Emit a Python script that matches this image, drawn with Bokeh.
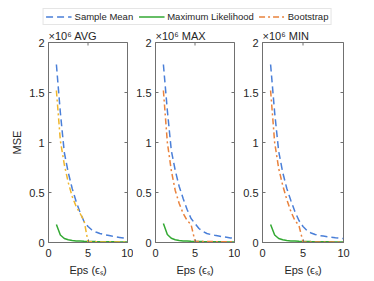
import math
from bokeh.plotting import figure
from bokeh.layouts import column, row
from bokeh.models import (Range1d, FixedTicker, Legend, LegendItem,
                          ColumnDataSource, NumeralTickFormatter)
from bokeh.embed import file_html
from bokeh.resources import INLINE

# ---------------- data (MSE in units of 1e6) ----------------
eps = [1, 1.5, 2, 2.5, 3, 3.5, 4, 4.5, 5, 5.5, 6, 6.5, 7, 7.5, 8, 8.5, 9, 9.5, 10]

panel_names = ["AVG", "MAX", "MIN"]

sample_mean_avg = [1.78, 1.30, 0.90, 0.70, 0.54, 0.41, 0.30, 0.21, 0.16, 0.125, 0.105, 0.09,
                   0.08, 0.072, 0.064, 0.057, 0.051, 0.045, 0.04]
sample_mean_max = [1.78, 1.32, 0.92, 0.72, 0.56, 0.44, 0.33, 0.24, 0.19, 0.14, 0.11, 0.09,
                   0.08, 0.072, 0.065, 0.058, 0.052, 0.046, 0.04]
sample_mean_min = [1.78, 1.30, 0.91, 0.70, 0.54, 0.42, 0.31, 0.22, 0.16, 0.12, 0.095, 0.08,
                   0.07, 0.064, 0.058, 0.053, 0.048, 0.044, 0.04]

max_lik_avg = [0.18, 0.075, 0.04, 0.027, 0.02, 0.016, 0.014, 0.012, 0.011, 0.01, 0.009, 0.0085,
               0.008, 0.0075, 0.007, 0.0065, 0.006, 0.0055, 0.005]
max_lik_max = [0.19, 0.08, 0.042, 0.028, 0.02, 0.016, 0.014, 0.012, 0.011, 0.01, 0.009, 0.0085,
               0.008, 0.0075, 0.007, 0.0065, 0.006, 0.0055, 0.005]
max_lik_min = [0.18, 0.075, 0.04, 0.027, 0.02, 0.016, 0.014, 0.012, 0.011, 0.01, 0.009, 0.0085,
               0.008, 0.0075, 0.007, 0.0065, 0.006, 0.0055, 0.005]

bootstrap_avg = [1.52, 1.02, 0.78, 0.60, 0.46, 0.36, 0.29, 0.22, 0.008, 0.007, 0.007, 0.006,
                 0.006, 0.006, 0.005, 0.005, 0.005, 0.005, 0.005]
bootstrap_max = [1.52, 1.00, 0.72, 0.52, 0.39, 0.29, 0.22, 0.18, 0.012, 0.011, 0.01, 0.01,
                 0.009, 0.009, 0.008, 0.008, 0.008, 0.007, 0.007]
bootstrap_min = [1.52, 1.00, 0.74, 0.57, 0.43, 0.31, 0.22, 0.17, 0.006, 0.006, 0.006, 0.005,
                 0.005, 0.005, 0.005, 0.005, 0.005, 0.005, 0.005]

x_ticks = [0, 5, 10]
y_ticks = [0, 0.5, 1, 1.5, 2]

series_labels = ["Sample Mean", "Maximum Likelihood", "Bootstrap"]

# ---------------- style ----------------
BLUE = "#4a7fd8"
GREEN = "#33a933"
ORANGE = "#e9823c"
YELLOW = "#efb62e"
AXIS = "#707070"
TEXT = "#262626"
FONT = "Liberation Sans"
DASH_SM = "7 4"
DASH_BS = "6 3 2 3"


def make_panel(name, sm, ml, bs, bs_color, left, right, frame_w, ylabel):
    gap = "  " if name == "MIN" else " "
    p = figure(frame_width=frame_w, frame_height=200, x_range=Range1d(0, 10),
               y_range=Range1d(0, 2), output_backend="svg", toolbar_location=None,
               min_border_left=left, min_border_right=right, min_border_top=15,
               min_border_bottom=38, background_fill_color="white",
               border_fill_color="white", title="×10⁶" + gap + name)
    p.title.align = "left"
    p.title.standoff = 2
    p.title.text_font = FONT
    p.title.text_font_size = "11px"
    p.title.text_font_style = "normal"
    p.title.text_color = TEXT
    p.grid.visible = False
    p.outline_line_color = AXIS
    p.outline_line_width = 1

    src = ColumnDataSource(dict(eps=eps, sm=sm, ml=ml, bs=bs))
    p.line("eps", "sm", source=src, line_color=BLUE, line_width=1.5, line_dash=DASH_SM)
    p.line("eps", "ml", source=src, line_color=GREEN, line_width=1.5)
    p.line("eps", "bs", source=src, line_color=bs_color, line_width=1.5, line_dash=DASH_BS)

    # inner tick marks on the top and right edges of the box
    p.scatter(x=x_ticks, y=[y_ticks[-1]] * len(x_ticks), marker="dash", angle=math.pi / 2,
              size=6, line_color=AXIS, line_width=1)
    p.scatter(x=[x_ticks[-1]] * len(y_ticks), y=y_ticks, marker="dash",
              size=6, line_color=AXIS, line_width=1)

    for ax in (p.xaxis[0], p.yaxis[0]):
        ax.major_tick_in = 3
        ax.major_tick_out = 0
        ax.minor_tick_line_color = None
        ax.axis_line_color = AXIS
        ax.major_tick_line_color = AXIS
        ax.major_label_text_font = FONT
        ax.major_label_text_font_size = "11px"
        ax.major_label_text_color = TEXT
        ax.axis_label_text_font = FONT
        ax.axis_label_text_font_size = "11px"
        ax.axis_label_text_font_style = "normal"
        ax.axis_label_text_color = TEXT
    p.xaxis.ticker = FixedTicker(ticks=x_ticks)
    p.yaxis.ticker = FixedTicker(ticks=y_ticks)
    p.xaxis.formatter = NumeralTickFormatter(format="0.[0]")
    p.yaxis.formatter = NumeralTickFormatter(format="0.[0]")
    p.xaxis.major_label_standoff = 6
    p.yaxis.major_label_standoff = 4
    p.xaxis.axis_label = "Eps (ϵₛ)"
    p.xaxis.axis_label_standoff = 4
    if ylabel:
        p.yaxis.axis_label = "MSE"
        p.yaxis.axis_label_standoff = 3
    return p


p1 = make_panel("AVG", sample_mean_avg, max_lik_avg, bootstrap_avg, YELLOW, 48, 6, 79, True)
p2 = make_panel("MAX", sample_mean_max, max_lik_max, bootstrap_max, ORANGE, 20, 6, 79, False)
p3 = make_panel("MIN", sample_mean_min, max_lik_min, bootstrap_min, ORANGE, 20, 12, 81, False)

# ---------------- legend strip ----------------
lg = figure(width=374, height=26, x_range=Range1d(0, 1), y_range=Range1d(0, 1),
            output_backend="svg", toolbar_location=None, min_border=0)
lg.axis.visible = False
lg.grid.visible = False
lg.outline_line_color = None
hidden = ColumnDataSource(dict(x=[-5, -4], y=[-5, -4]))
r1 = lg.line("x", "y", source=hidden, line_color=BLUE, line_width=1.5, line_dash=DASH_SM)
r2 = lg.line("x", "y", source=hidden, line_color=GREEN, line_width=1.5)
r3 = lg.line("x", "y", source=hidden, line_color=ORANGE, line_width=1.5, line_dash=DASH_BS)
legend = Legend(items=[LegendItem(label=series_labels[0], renderers=[r1]),
                       LegendItem(label=series_labels[1], renderers=[r2]),
                       LegendItem(label=series_labels[2], renderers=[r3])],
                orientation="horizontal", location="top_center", margin=8, padding=2,
                spacing=5, label_standoff=3, glyph_width=26, glyph_height=11,
                label_height=11, label_text_font=FONT, label_text_font_size="9.5px",
                label_text_color=TEXT, border_line_color="#cccccc",
                background_fill_color="white")
lg.add_layout(legend, "center")

layout = column(lg, row(p1, p2, p3, spacing=0), spacing=0)

open("out.html", "w").write(file_html(layout, INLINE))
